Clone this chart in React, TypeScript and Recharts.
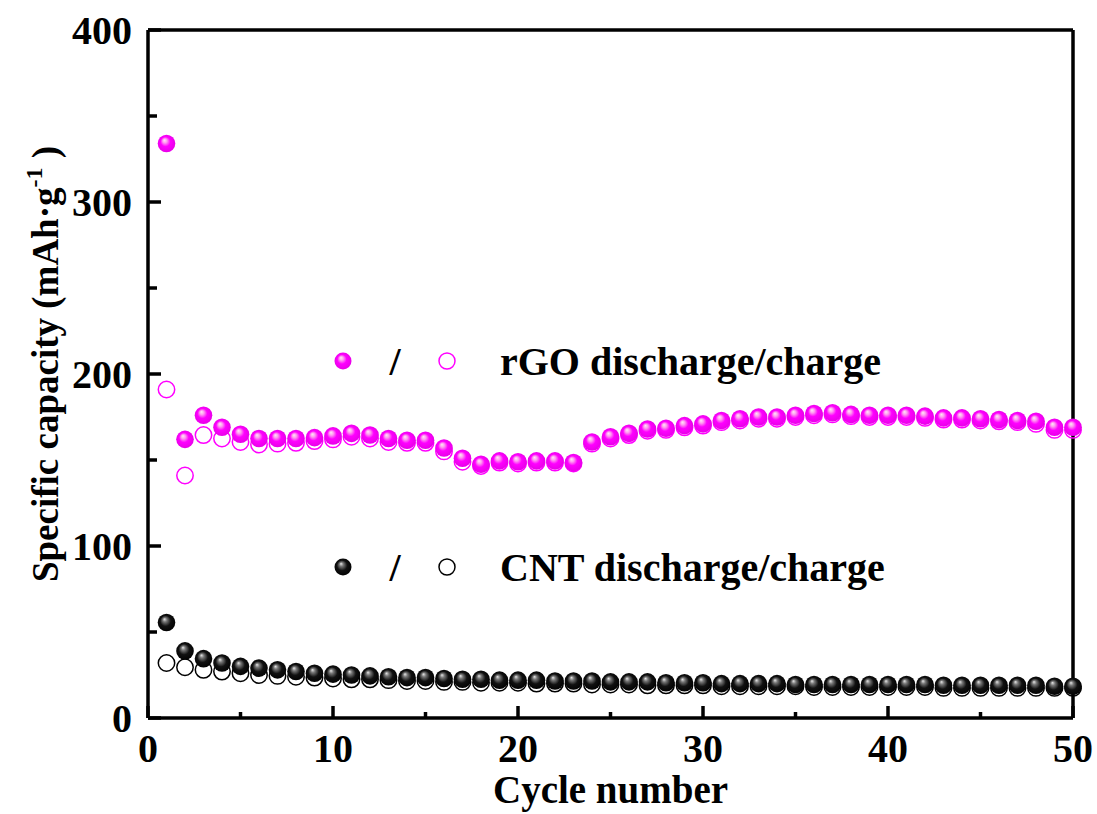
import React from 'react';
import { ScatterChart, Scatter, XAxis, YAxis, ReferenceLine, Legend } from 'recharts';

const cycles = [
  1, 2, 3, 4, 5, 6, 7, 8, 9, 10, 11, 12, 13, 14, 15, 16, 17, 18, 19, 20, 21, 22, 23, 24, 25,
  26, 27, 28, 29, 30, 31, 32, 33, 34, 35, 36, 37, 38, 39, 40, 41, 42, 43, 44, 45, 46, 47, 48, 49, 50,
];

const rgoDischarge = [
  334, 162, 176, 169, 165, 162.5, 162.5, 162.5, 163, 164, 165.5, 164.5, 162.5, 161.5, 161.5, 157, 151, 147.5,
  149.5, 149, 149.5, 149.5, 148.5, 160.5, 163.5, 165.5, 168, 168.5, 170, 171, 173, 174, 175, 175, 176, 177,
  177.5, 176.5, 176, 176, 176, 175.5, 174.5, 174.5, 174, 173.5, 173, 172.5, 169, 169,
];
const rgoCharge = [
  191, 141, 164.5, 162.5, 160.5, 159, 159.5, 160, 161, 162, 163.5, 162.5, 160.5, 160, 160, 155, 149, 146.5,
  148.5, 148, 148.5, 148.5, 148, 159.5, 162.5, 164.5, 167, 167.5, 169, 170, 172, 173, 174, 174, 175, 176,
  176.5, 175.5, 175, 175, 175, 174.5, 173.5, 173.5, 173, 172.5, 172, 171, 167.5, 167.5,
];
const cntDischarge = [
  55.5, 39, 34.5, 32, 30, 29, 28, 27, 26, 25.5, 25, 24.5, 24, 23.5, 23.5, 23, 22.5, 22.5, 22, 22, 22, 21.5,
  21.5, 21.5, 21, 21, 21, 20.5, 20.5, 20.5, 20, 20, 20, 20, 19.5, 19.5, 19.5, 19.5, 19.5, 19.5, 19.5, 19.5,
  19, 19, 19, 19, 19, 19, 18.5, 18.5,
];
const cntCharge = [
  32, 29.5, 28, 27, 26, 25, 24.5, 24, 23.5, 23, 22.5, 22.5, 22, 21.5, 21.5, 21, 21, 20.5, 20.5, 20.5, 20, 20,
  20, 19.5, 19.5, 19.5, 19, 19, 19, 19, 18.5, 18.5, 18.5, 18.5, 18.5, 18, 18, 18, 18, 18, 18, 18, 17.5, 17.5,
  17.5, 17.5, 17.5, 17.5, 17.5, 17.5,
];

const xTicks = [0, 5, 10, 15, 20, 25, 30, 35, 40, 45, 50];
const yTicks = [0, 50, 100, 150, 200, 250, 300, 350, 400];

const FONT = "'Liberation Serif', 'Times New Roman', serif";
const MAGENTA = '#ff00ff';

const toPoints = (ys: number[]) => cycles.map((c, i) => ({ x: c, y: ys[i] }));

const SphereDefs = ({ prefix }: { prefix: string }) => (
  <defs>
    <radialGradient id={`${prefix}m`} cx="50%" cy="50%" r="55%" fx="38%" fy="30%">
      <stop offset="0%" stopColor="#ffe6f6" />
      <stop offset="22%" stopColor="#ff9cf0" />
      <stop offset="50%" stopColor="#ff00ff" />
      <stop offset="100%" stopColor="#e400e4" />
    </radialGradient>
    <radialGradient id={`${prefix}k`} cx="50%" cy="50%" r="55%" fx="38%" fy="30%">
      <stop offset="0%" stopColor="#e8e8e8" />
      <stop offset="22%" stopColor="#777" />
      <stop offset="55%" stopColor="#111" />
      <stop offset="100%" stopColor="#000" />
    </radialGradient>
  </defs>
);

const sphere = (grad: string) => (props: any) => (
  <circle cx={props.cx} cy={props.cy} r={8.8} fill={`url(#${grad})`} />
);

const ring = (color: string) => (props: any) => (
  <circle cx={props.cx} cy={props.cy} r={8.2} fill="none" stroke={color} strokeWidth={1.5} />
);

const XTick = (props: any) => {
  const { x, y, payload } = props;
  const base = y - 10;
  const major = payload.value % 10 === 0;
  return (
    <g>
      <line x1={x} x2={x} y1={base} y2={base - (major ? 12 : 6)} stroke="#000" strokeWidth={3.5} />
      {major && (
        <text x={x} y={base + 44} textAnchor="middle" fontFamily={FONT} fontWeight="bold" fontSize={40} fill="#000">
          {payload.value}
        </text>
      )}
    </g>
  );
};

const YTick = (props: any) => {
  const { x, y, payload } = props;
  const base = x + 16;
  const major = payload.value % 100 === 0;
  return (
    <g>
      <line x1={base} x2={base + (major ? 13 : 9)} y1={y} y2={y} stroke="#000" strokeWidth={3.5} />
      {major && (
        <text x={x} y={y + 14} textAnchor="end" fontFamily={FONT} fontWeight="bold" fontSize={40} fill="#000">
          {payload.value}
        </text>
      )}
    </g>
  );
};

const legendRows = [
  { name: 'rGO', grad: 'lgm', color: MAGENTA, y: 361 },
  { name: 'CNT', grad: 'lgk', color: '#000', y: 567 },
];

const LegendBlock = () => (
  <svg width={1097} height={814}>
    <SphereDefs prefix="lg" />
    {legendRows.map((r) => (
      <g key={r.name}>
        <circle cx={343} cy={r.y} r={8.5} fill={`url(#${r.grad})`} />
        <text x={395} y={r.y + 14} textAnchor="middle" fontFamily={FONT} fontWeight="bold" fontSize={40} fill="#000">
          /
        </text>
        <circle cx={447} cy={r.y} r={8} fill="none" stroke={r.color} strokeWidth={1.5} />
        <text x={500} y={r.y + 14} fontFamily={FONT} fontWeight="bold" fontSize={40} fill="#000">
          {r.name} discharge/charge
        </text>
      </g>
    ))}
  </svg>
);

export default function App() {
  return (
    <div style={{ position: 'fixed', left: 0, top: 0, background: '#fff' }}>
      <ScatterChart width={1097} height={814} margin={{ top: 30, right: 24, bottom: 0, left: 0 }}>
        <SphereDefs prefix="g" />
        <XAxis
          dataKey="x"
          type="number"
          domain={[0, 50]}
          ticks={xTicks}
          interval={0}
          height={96}
          tickSize={0}
          tickMargin={10}
          tickLine={false}
          axisLine={{ stroke: '#000', strokeWidth: 3.5 }}
          tick={<XTick />}
          label={{
            content: ({ viewBox }: any) => (
              <text
                x={viewBox.x + viewBox.width / 2}
                y={viewBox.y + 85}
                textAnchor="middle"
                fontFamily={FONT}
                fontWeight="bold"
                fontSize={39}
                fill="#000"
              >
                Cycle number
              </text>
            ),
          }}
        />
        <YAxis
          dataKey="y"
          type="number"
          domain={[0, 400]}
          ticks={yTicks}
          interval={0}
          width={148}
          tickSize={0}
          tickMargin={16}
          tickLine={false}
          axisLine={{ stroke: '#000', strokeWidth: 3.5 }}
          tick={<YTick />}
          label={{
            content: () => (
              <text
                transform="translate(58, 364) rotate(-90)"
                textAnchor="middle"
                fontFamily={FONT}
                fontWeight="bold"
                fontSize={37}
                fill="#000"
              >
                <tspan>Specific capacity (mAh·g</tspan>
                <tspan dy={-16} fontSize={24}>-1</tspan>
                <tspan dy={16}> )</tspan>
              </text>
            ),
          }}
        />
        <ReferenceLine y={400} stroke="#000" strokeWidth={3.5} />
        <ReferenceLine x={50} stroke="#000" strokeWidth={3.5} />
        <Scatter name="rGO charge" data={toPoints(rgoCharge)} shape={ring(MAGENTA)} isAnimationActive={false} />
        <Scatter name="CNT charge" data={toPoints(cntCharge)} shape={ring('#000')} isAnimationActive={false} />
        <Scatter name="rGO discharge" data={toPoints(rgoDischarge)} shape={sphere('gm')} isAnimationActive={false} />
        <Scatter name="CNT discharge" data={toPoints(cntDischarge)} shape={sphere('gk')} isAnimationActive={false} />
        <Legend
          layout="vertical"
          align="center"
          verticalAlign="middle"
          content={() => <LegendBlock />}
          wrapperStyle={{ position: 'absolute', left: 0, top: 0, width: 1097, height: 814, pointerEvents: 'none' }}
        />
      </ScatterChart>
    </div>
  );
}
